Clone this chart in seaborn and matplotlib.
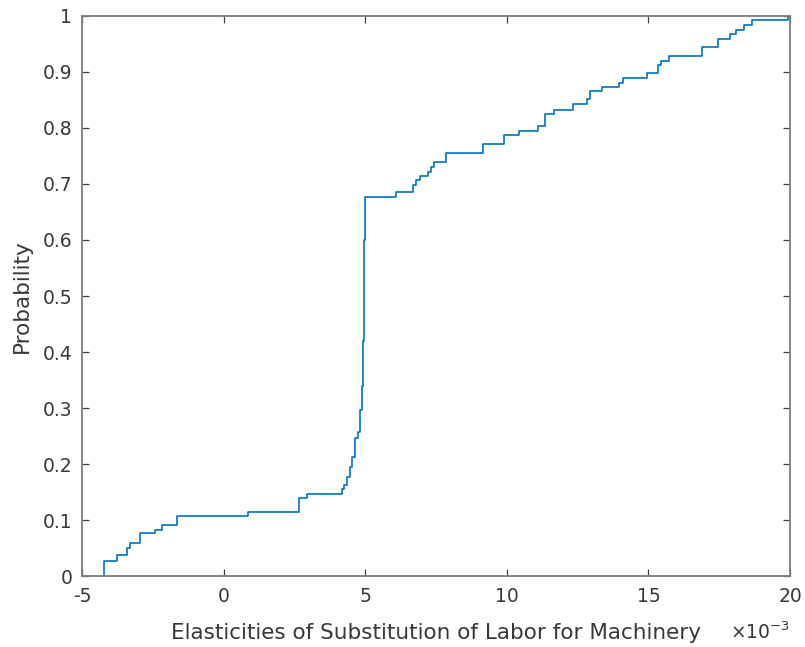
import numpy as np
import pandas as pd
import matplotlib
matplotlib.use("Agg")
import matplotlib.pyplot as plt
import seaborn as sns

# Step locations (x, in units of 1e-3) and cumulative probability after each step
step_x = [-4.22, -3.78, -3.42, -3.30, -2.95, -2.42, -2.16, -1.63, 0.85, 2.66,
          2.93, 4.17, 4.25, 4.37, 4.46, 4.55, 4.64, 4.76, 4.82, 4.88,
          4.91, 4.94, 4.97, 4.99, 6.09, 6.68, 6.79, 6.93, 7.23, 7.31,
          7.44, 7.85, 9.15, 9.89, 10.42, 11.11, 11.35, 11.67, 12.34, 12.84,
          12.94, 13.37, 13.97, 14.11, 14.94, 15.35, 15.44, 15.74, 16.88, 17.47,
          17.88, 18.09, 18.39, 18.65, 19.94]
cum_prob = [0.027, 0.037, 0.050, 0.059, 0.076, 0.083, 0.091, 0.107, 0.115, 0.139,
            0.147, 0.155, 0.163, 0.177, 0.195, 0.213, 0.246, 0.258, 0.296, 0.340,
            0.420, 0.500, 0.600, 0.676, 0.685, 0.698, 0.707, 0.714, 0.722, 0.731,
            0.739, 0.755, 0.772, 0.788, 0.794, 0.803, 0.825, 0.833, 0.842, 0.851,
            0.866, 0.873, 0.881, 0.889, 0.898, 0.912, 0.920, 0.929, 0.944, 0.959,
            0.968, 0.975, 0.984, 0.992, 1.000]

x_ticks = [-5, 0, 5, 10, 15, 20]
y_ticks = [0, 0.1, 0.2, 0.3, 0.4, 0.5, 0.6, 0.7, 0.8, 0.9, 1]
y_tick_labels = ["0", "0.1", "0.2", "0.3", "0.4", "0.5", "0.6", "0.7", "0.8", "0.9", "1"]

df = pd.DataFrame({"x": step_x, "w": np.diff(np.concatenate([[0.0], cum_prob]))})

sns.set_theme(style="white")
plt.rcParams["font.family"] = ["DejaVu Sans"]

fig = plt.figure(figsize=(8.05, 6.47), dpi=100)
ax = fig.add_axes([0.1019, 0.1097, 0.8795, 0.8656])

sns.ecdfplot(data=df, x="x", weights="w", ax=ax, color="#0072BD", linewidth=1.2)

ax.set_xlim(-5, 20)
ax.set_ylim(0, 1)
ax.set_xticks(x_ticks)
ax.set_xticklabels([str(t) for t in x_ticks])
ax.set_yticks(y_ticks)
ax.set_yticklabels(y_tick_labels)

spine_color = "#7d7d7d"
for s in ax.spines.values():
    s.set_visible(True)
    s.set_color(spine_color)
    s.set_linewidth(1.3)

ax.tick_params(axis="both", direction="in", length=5, width=0.9, color="#404040",
               labelsize=13.5, labelcolor="#383838", top=True, right=True,
               bottom=True, left=True)
ax.tick_params(axis="x", pad=8)
ax.tick_params(axis="y", pad=7)

ax.set_xlabel("Elasticities of Substitution of Labor for Machinery", fontsize=15.5,
              color="#383838", labelpad=12)
ax.set_ylabel("Probability", fontsize=15.5, color="#383838", labelpad=8)

ax.text(1.0, -0.082, r"$\times\mathregular{10^{-3}}$", transform=ax.transAxes,
        ha="right", va="top", fontsize=13.5, color="#383838")

fig.savefig("out.png", dpi=100, facecolor="white")
